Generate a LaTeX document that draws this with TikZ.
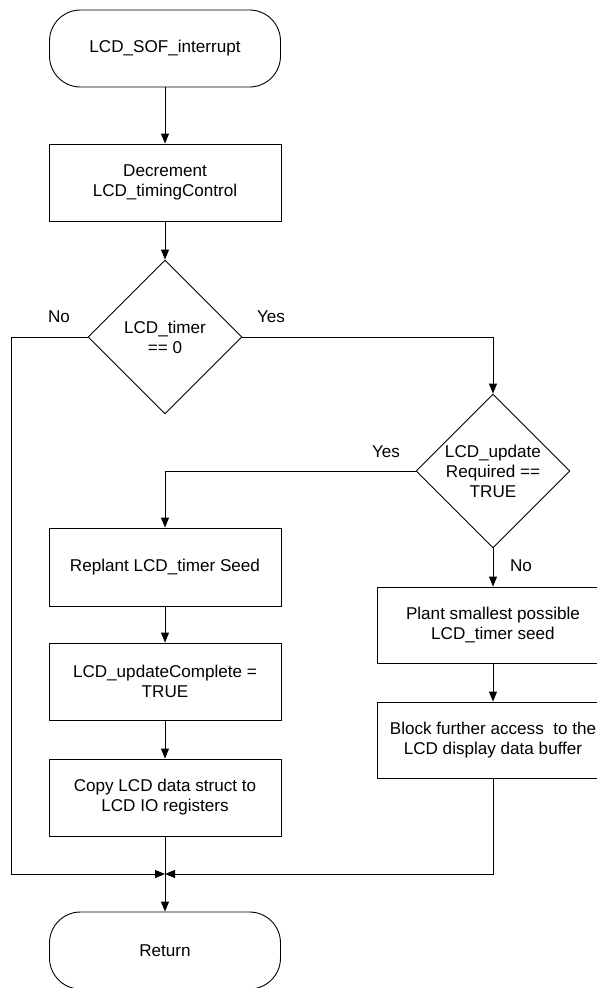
\documentclass[tikz,border=0pt]{standalone}
\usepackage{fontspec}
\setmainfont{Liberation Sans}
\usetikzlibrary{shapes.geometric,arrows.meta}
\begin{document}
\begin{tikzpicture}[x=1pt,y=-1pt,
  every node/.style={font=\fontsize{17.1}{20}\selectfont},
  box/.style={draw, line width=0.9pt, minimum width=232pt, minimum height=77pt, inner sep=0pt, align=center},
  term/.style={draw, line width=0.9pt, rounded corners=31pt, minimum width=231pt, minimum height=77pt, inner sep=0pt, align=center},
  dec/.style={draw, line width=0.9pt, diamond, aspect=1, minimum width=154pt, minimum height=154pt, inner sep=0pt, align=center},
  lbl/.style={inner sep=0pt},
  arr/.style={line width=0.9pt, -{Triangle[length=10pt,width=8pt]}},
  ln/.style={line width=0.9pt}]
\useasboundingbox (0,0) rectangle (597,988);
\clip (0,0) rectangle (597,988);

\node[term] (start) at (165,48.5) {LCD\_SOF\_interrupt};
\node[box] (decr) at (165,182.5) {Decrement\\LCD\_timingControl};
\node[dec] (d1) at (165,337) {LCD\_timer\\== 0};
\node[dec] (d2) at (493,471) {LCD\_update\\Required ==\\TRUE};
\node[box, minimum height=78pt] (replant) at (165,567) {Replant LCD\_timer Seed};
\node[box] (upd) at (165,681.5) {LCD\_updateComplete =\\TRUE};
\node[box] (copy) at (165,797.5) {Copy LCD data struct to\\LCD IO registers};
\node[box, minimum height=76pt] (plant) at (493,625) {Plant smallest possible\\LCD\_timer seed};
\node[box, minimum height=76pt] (block) at (493,740) {Block further access\ \ to the\\LCD display data buffer};
\node[term] (ret) at (165,950.5) {Return};

\node[lbl] (no1) at (59,317) {No};
\node[lbl] (yes1) at (271,317) {Yes};
\node[lbl] (yes2) at (386,452) {Yes};
\node[lbl] (no2) at (521,566) {No};

\coordinate (m) at (165,874);
\coordinate (lc) at (11,874);

\draw[arr] (start) -- (decr);
\draw[arr] (decr) -- (d1);
\draw[arr] (d1.east) -| (d2.north);
\draw[arr] (d2.west) -| (replant.north);
\draw[arr] (d2.south) -- (plant.north);
\draw[arr] (plant) -- (block);
\draw[arr] (replant) -- (upd);
\draw[arr] (upd) -- (copy);
\draw[arr] (copy) -- (ret);
\draw[arr] (d1.west) -| (lc) -- (m);
\draw[arr] (block.south) |- (m);
\end{tikzpicture}
\end{document}
